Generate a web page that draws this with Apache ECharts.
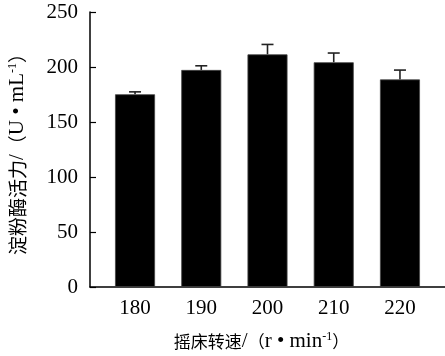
<!DOCTYPE html>
<html><head><meta charset="utf-8">
<script src="https://cdn.jsdelivr.net/npm/echarts@6/dist/echarts.min.js"></script>
<style>html,body{margin:0;padding:0;background:#fff}#c{width:445px;height:356px}</style>
</head><body><div id="c"></div>
<script>
var categories = [180, 190, 200, 210, 220];
var activity = [175.2, 197.3, 211.5, 204.3, 188.7];
var errors = [2.2, 3.8, 9.0, 8.4, 8.5];
var yTicks = [0, 50, 100, 150, 200, 250];

var serif = '"Liberation Serif", "Times New Roman", serif';
var cjk = '"Noto Sans CJK SC", sans-serif';

var barData = categories.map(function (c, i) { return [c, activity[i]]; });
var errData = categories.map(function (c, i) { return [c, activity[i], errors[i]]; });

var chart = echarts.init(document.getElementById('c'));
chart.setOption({
  animation: false,
  backgroundColor: '#fff',
  grid: { left: 90, right: 0, top: 12, bottom: 69, containLabel: false, outerBoundsMode: 'none' },
  xAxis: {
    type: 'value', min: 173.2, max: 226.8,
    splitLine: { show: false },
    axisLine: { show: true, onZero: false, lineStyle: { color: '#000', width: 1.5 } },
    axisTick: { show: false },
    axisLabel: { customValues: categories, color: '#000', fontFamily: serif, fontSize: 21, margin: 11 },
    name: '{a|摇床转速}{b|/}{a|（}{b|r • min}{s|-1}{a|）}',
    nameLocation: 'middle', nameGap: 44,
    nameTextStyle: {
      padding: [0, 12, 0, 0],
      rich: {
        a: { fontFamily: cjk, fontSize: 17, color: '#000' },
        b: { fontFamily: serif, fontSize: 21, color: '#000' },
        s: { fontFamily: serif, fontSize: 12, color: '#000', verticalAlign: 'top', padding: [0, 0, 8, 0] }
      }
    }
  },
  yAxis: {
    type: 'value', min: 0, max: 250, interval: 50,
    splitLine: { show: false },
    axisLine: { show: true, lineStyle: { color: '#000', width: 1.5 } },
    axisTick: { show: true, inside: true, length: 6, lineStyle: { color: '#000', width: 1.2 } },
    axisLabel: { color: '#000', fontFamily: serif, fontSize: 21, margin: 12 },
    name: '{a|淀粉酶活力}{b|/}{a|（}{b|U • mL}{s|-1}{a|）}',
    nameLocation: 'middle', nameGap: 62,
    nameTextStyle: {
      rich: {
        a: { fontFamily: cjk, fontSize: 19, color: '#000' },
        b: { fontFamily: serif, fontSize: 21, color: '#000' },
        s: { fontFamily: serif, fontSize: 12, color: '#000', verticalAlign: 'top', padding: [0, 0, 8, 0] }
      }
    }
  },
  series: [
    {
      type: 'bar', data: barData, barWidth: 40,
      itemStyle: { color: '#000', borderColor: '#444', borderWidth: 0.8 }
    },
    {
      type: 'custom', data: errData, z: 1,
      renderItem: function (params, api) {
        var x = api.value(0), v = api.value(1), e = api.value(2);
        var p0 = api.coord([x, v]);
        var p1 = api.coord([x, v + e]);
        var hw = 6;
        var st = { stroke: '#222', lineWidth: 1.6 };
        return { type: 'group', children: [
          { type: 'line', shape: { x1: p0[0], y1: p0[1], x2: p1[0], y2: p1[1] }, style: st },
          { type: 'line', shape: { x1: p1[0] - hw, y1: p1[1], x2: p1[0] + hw, y2: p1[1] }, style: st }
        ]};
      }
    }
  ]
});
</script>
</body></html>
